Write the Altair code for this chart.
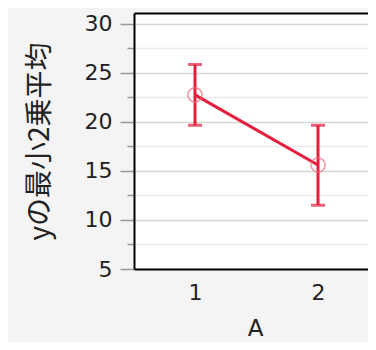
import altair as alt
import pandas as pd

# data
levels = [1, 2]
means = [22.75, 15.6]
lower = [19.65, 11.5]
upper = [25.85, 19.65]

major_ticks = [5, 10, 15, 20, 25, 30]
minor_ticks = [7.5, 12.5, 17.5, 22.5, 27.5]

df = pd.DataFrame({"A": levels, "mean": means, "lo": lower, "hi": upper})

RED = "#e61e3c"
W, H = 234, 256

xscale = alt.Scale(domain=[0.504, 0.504 + W / 123], nice=False, zero=False)
yscale = alt.Scale(domain=[5, 31.1], nice=False, zero=False)

base = alt.Chart(df)

# minor grid / minor ticks axis + top frame line (x axis on top)
bars = base.mark_rule(color=RED, strokeWidth=3).encode(
    x=alt.X("A:Q", scale=xscale,
            axis=alt.Axis(orient="top", labels=False, ticks=False, grid=False,
                          title=None, domain=True, domainColor="#000000",
                          domainWidth=2)),
    y=alt.Y("lo:Q", scale=yscale,
            axis=alt.Axis(orient="left", values=minor_ticks, labels=False,
                          domain=False, ticks=True, tickSize=7,
                          tickColor="#999999", tickWidth=1.5,
                          grid=True, gridColor="#ececec", gridWidth=1.5,
                          title=None)),
    y2="hi:Q",
)

caps_lo = base.mark_tick(color=RED, orient="horizontal", size=14, thickness=3).encode(
    x=alt.X("A:Q", scale=xscale, axis=None),
    y=alt.Y("lo:Q", scale=yscale, axis=None),
)
caps_hi = base.mark_tick(color=RED, orient="horizontal", size=14, thickness=3).encode(
    x=alt.X("A:Q", scale=xscale, axis=None),
    y=alt.Y("hi:Q", scale=yscale, axis=None),
)

line = base.mark_line(color=RED, strokeWidth=3).encode(
    x=alt.X("A:Q", scale=xscale,
            axis=alt.Axis(orient="bottom", values=levels, format="d",
                          ticks=False, tickSize=0, grid=False,
                          domain=True, domainColor="#000000", domainWidth=2,
                          labelFont="DejaVu Sans", labelFontSize=22,
                          labelColor="#222222", labelPadding=23,
                          labelBaseline="middle", labelFlush=False,
                          title="A", titleFont="DejaVu Sans", titleFontSize=23,
                          titleFontWeight="normal", titleColor="#222222",
                          titleBaseline="middle", titleAlign="center",
                          titleX=121, titleY=59)),
    y=alt.Y("mean:Q", scale=yscale,
            axis=alt.Axis(orient="left", values=major_ticks, format="d",
                          domain=True, domainColor="#000000", domainWidth=2,
                          ticks=True, tickSize=14, tickColor="#999999",
                          tickWidth=1.5,
                          grid=True, gridColor="#d6d6d6", gridWidth=1.5,
                          labelFont="DejaVu Sans", labelFontSize=22,
                          labelColor="#222222", labelPadding=8,
                          labelFlush=False, labelOverlap=False,
                          title="yの最小2乗平均", titleFont="Noto Sans CJK JP",
                          titleFontSize=28, titleFontWeight="normal",
                          titleColor="#222222", titleAngle=270,
                          titleAlign="center", titleBaseline="middle",
                          titleX=-94, titleY=H / 2)),
)

points = base.mark_point(shape="circle", filled=False, color="#f06a7c",
                         strokeWidth=1.5, size=200).encode(
    x=alt.X("A:Q", scale=xscale, axis=None),
    y=alt.Y("mean:Q", scale=yscale, axis=None),
)

chart = (
    alt.layer(bars, line, caps_lo, caps_hi, points)
    .resolve_axis(x="independent", y="independent")
    .properties(
        width=W, height=H,
        autosize=alt.AutoSizeParams(type="none"),
        padding={"left": 126, "top": 5, "right": 0, "bottom": 73},
        background="#f4f4f4",
    )
    .configure_view(stroke=None, fill="#ffffff")
)

chart.save("out.html", embed_options={"renderer": "svg", "actions": False})
